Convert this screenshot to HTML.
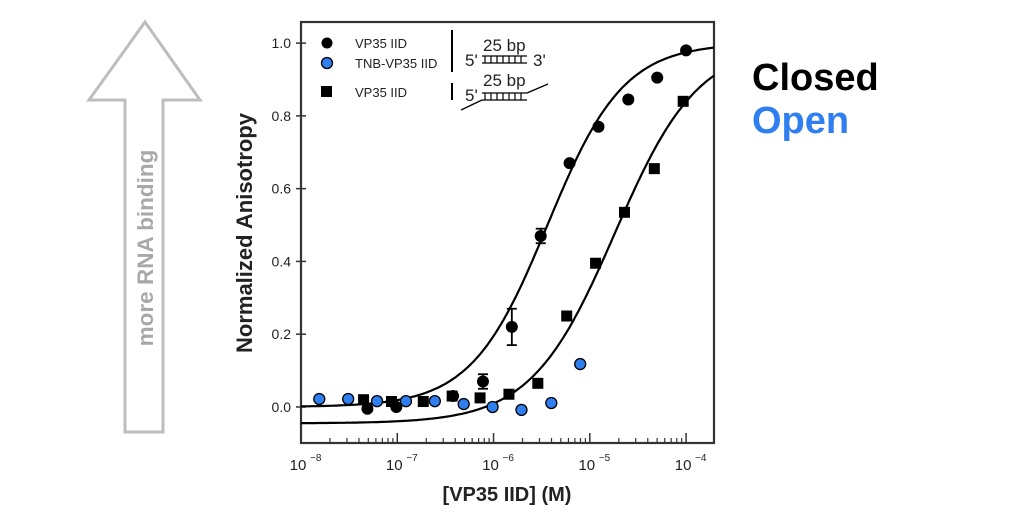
<!DOCTYPE html>
<html><head><meta charset="utf-8"><style>
html,body{margin:0;padding:0;background:#fff;}
svg{display:block;font-family:"Liberation Sans",Arial,sans-serif;}
</style></head><body>
<svg id="chart" width="1024" height="512" viewBox="0 0 1024 512">
<g>
<polygon points="145,22 200,100 163,100 163,432 125,432 125,100 89,100" fill="none" stroke="#bdbdbd" stroke-width="3"/>
<text x="0" y="0" transform="translate(153,248) rotate(-90)" text-anchor="middle" font-size="22.5" font-weight="bold" fill="#a8a8a8">more RNA binding</text>
</g>
<text transform="translate(252,233) rotate(-90)" text-anchor="middle" font-size="22" font-weight="bold" fill="#222">Normalized Anisotropy</text>
<text x="507" y="501" text-anchor="middle" font-size="20" font-weight="bold" fill="#222">[VP35 IID] (M)</text>
<text x="752" y="90" font-size="38" font-weight="bold" fill="#000">Closed</text>
<text x="752" y="133" font-size="38" font-weight="bold" fill="#2f7ff0">Open</text>
<g id="axes"></g>
<g id="marks"></g>
<g font-size="13" fill="#222">
<circle cx="327" cy="43" r="5.5" fill="#000"/>
<text x="355" y="48">VP35 IID</text>
<circle cx="327" cy="63" r="5.5" fill="#2f7ff0" stroke="#000" stroke-width="1.3"/>
<text x="355" y="68">TNB-VP35 IID</text>
<rect x="321" y="86" width="11" height="11" fill="#000"/>
<text x="355" y="97">VP35 IID</text>
<line x1="452" y1="30" x2="452" y2="72" stroke="#000" stroke-width="2"/>
<line x1="452" y1="83" x2="452" y2="100" stroke="#000" stroke-width="2"/>
<g font-size="17">
<text x="465" y="66">5'</text><text x="483" y="51">25 bp</text><text x="533" y="66">3'</text>
<line x1="482" y1="56" x2="527" y2="56" stroke="#000" stroke-width="1.3"/>
<line x1="482" y1="63" x2="527" y2="63" stroke="#000" stroke-width="1.3"/>
<path d="M485 56v7M491 56v7M497 56v7M503 56v7M509 56v7M515 56v7M521 56v7" stroke="#000" stroke-width="1.2"/>
</g>
<g font-size="17">
<text x="465" y="101">5'</text><text x="483" y="86">25 bp</text>
<line x1="482" y1="93" x2="527" y2="93" stroke="#000" stroke-width="1.3"/>
<line x1="482" y1="100" x2="527" y2="100" stroke="#000" stroke-width="1.3"/>
<path d="M485 93v7M491 93v7M497 93v7M503 93v7M509 93v7M515 93v7M521 93v7" stroke="#000" stroke-width="1.2"/>
<line x1="527" y1="93" x2="548" y2="84" stroke="#000" stroke-width="1.3"/>
<line x1="482" y1="100" x2="461" y2="110" stroke="#000" stroke-width="1.3"/>
</g>
</g>
</svg>
<script>
const closedLogX=[-7.31,-7.01,-6.42,-6.11,-5.81,-5.51,-5.21,-4.91,-4.60,-4.30,-4.00];
const closedY=[-0.005,0.0,0.03,0.07,0.22,0.47,0.67,0.77,0.845,0.905,0.98];
const closedErr=[0,0,0,0.02,0.05,0.02,0,0,0,0,0];
const openLogX=[-7.35,-7.06,-6.73,-6.43,-6.14,-5.84,-5.54,-5.24,-4.94,-4.64,-4.33,-4.03];
const openY=[0.02,0.015,0.015,0.03,0.025,0.035,0.065,0.25,0.395,0.535,0.655,0.84];
const tnbLogX=[-7.81,-7.51,-7.21,-6.91,-6.61,-6.31,-6.01,-5.71,-5.40,-5.10];
const tnbY=[0.022,0.022,0.016,0.016,0.016,0.008,0.0,-0.008,0.011,0.118];
const fitClosed=[0.0,1.0,-5.44,1.1]; // bottom, top, logKd, hill
const fitOpen=[-0.045,1.0,-4.74,1.0];
const yTicks=[0.0,0.2,0.4,0.6,0.8,1.0];
const yTickLabels=["0.0","0.2","0.4","0.6","0.8","1.0"];
const xDecades=[-8,-7,-6,-5,-4];
const X0=301,X1=714,Y0=443,Y1=22,XMIN=-8,XMAX=-3.71,YMIN=-0.099,YMAX=1.058;
const sx=v=>X0+(v-XMIN)/(XMAX-XMIN)*(X1-X0);
const sy=v=>Y0-(v-YMIN)/(YMAX-YMIN)*(Y0-Y1);
const NS="http://www.w3.org/2000/svg";
function mk(tag,attrs,parent){const e=document.createElementNS(NS,tag);for(const k in attrs)e.setAttribute(k,attrs[k]);parent.appendChild(e);return e;}
const axes=document.getElementById('axes'),marks=document.getElementById('marks');
const frame=mk('rect',{x:X0,y:Y1,width:X1-X0,height:Y0-Y1,fill:'none',stroke:'#333','stroke-width':2.2},axes);


yTicks.forEach((t,i)=>{
 mk('line',{x1:X0-5,x2:X0+5,y1:sy(t),y2:sy(t),stroke:'#333','stroke-width':1.5},axes);
 const tx=mk('text',{x:X0-10,y:sy(t)+5,'text-anchor':'end','font-size':14,fill:'#222'},axes);
 tx.textContent=yTickLabels[i];
 
 
});
xDecades.forEach(d=>{
 const x=sx(d);
 mk('line',{x1:x,x2:x,y1:Y0,y2:Y0-10,stroke:'#333','stroke-width':1.5},axes);
 for(let m=2;m<10;m++){const lx=sx(d+Math.log10(m));if(lx<X1)mk('line',{x1:lx,x2:lx,y1:Y0,y2:Y0-5,stroke:'#333','stroke-width':1.2},axes);}
 const tx=mk('text',{x:x-3,y:Y0+27,'text-anchor':'middle','font-size':15,fill:'#222'},axes);
 tx.textContent='10';
 
 
 const sup=mk('text',{x:x+9,y:Y0+18,'font-size':10,fill:'#222'},axes);
 sup.textContent='\u2212'+(-d);
});
function curve(p,name){
 let d='';for(let i=0;i<=200;i++){const lx=XMIN+(XMAX-XMIN)*i/200;const y=p[0]+(p[1]-p[0])/(1+Math.pow(10,(p[2]-lx)*p[3]));d+=(i?'L':'M')+sx(lx).toFixed(1)+' '+sy(y).toFixed(1);}
 const c=mk('path',{d:d,fill:'none',stroke:'#000','stroke-width':2.2},marks);
 
 
}
curve(fitClosed,'fit-curve-closed');
curve(fitOpen,'fit-curve-open');
openLogX.forEach((lx,i)=>{
 const r=mk('rect',{x:sx(lx)-5.5,y:sy(openY[i])-5.5,width:11,height:11,fill:'#000'},marks);
 
 
});
closedLogX.forEach((lx,i)=>{
 const x=sx(lx);
 if(closedErr[i]>0){
  mk('line',{x1:x,x2:x,y1:sy(closedY[i]+closedErr[i]),y2:sy(closedY[i]-closedErr[i]),stroke:'#000','stroke-width':1.8},marks);
  mk('line',{x1:x-5,x2:x+5,y1:sy(closedY[i]+closedErr[i]),y2:sy(closedY[i]+closedErr[i]),stroke:'#000','stroke-width':1.8},marks);
  mk('line',{x1:x-5,x2:x+5,y1:sy(closedY[i]-closedErr[i]),y2:sy(closedY[i]-closedErr[i]),stroke:'#000','stroke-width':1.8},marks);
 }
 const c=mk('circle',{cx:x,cy:sy(closedY[i]),r:6,fill:'#000'},marks);
 
 
});
tnbLogX.forEach((lx,i)=>{
 const c=mk('circle',{cx:sx(lx),cy:sy(tnbY[i]),r:5.5,fill:'#2f7ff0',stroke:'#000','stroke-width':1.3},marks);
 
 
});
</script>
</body></html>
